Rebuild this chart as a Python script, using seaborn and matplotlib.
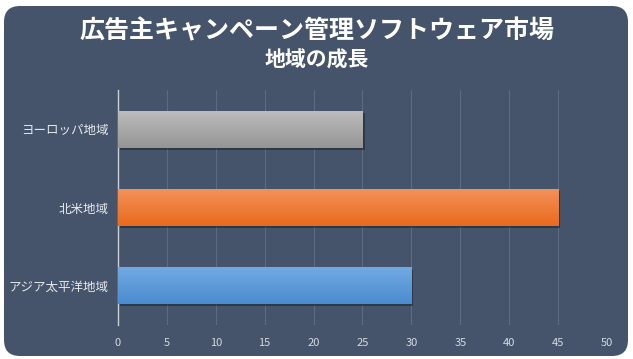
"""Regional growth bar chart for the advertiser campaign management software market."""

import matplotlib

matplotlib.use("Agg")

import matplotlib.patheffects as pe
import matplotlib.pyplot as plt
import numpy as np
import pandas as pd
import seaborn as sns
from matplotlib.colors import LinearSegmentedColormap
from matplotlib.patches import FancyBboxPatch

TITLE = "広告主キャンペーン管理ソフトウェア市場"
SUBTITLE = "地域の成長"

regions = ["ヨーロッパ地域", "北米地域", "アジア太平洋地域"]
growth = [25, 45, 30]
bar_colors = ["#a9a9a9", "#f07f2e", "#5a9ad8"]
# (top, bottom) shades used for the slight vertical gradient on each bar
bar_shades = [("#bcbcbc", "#959595"), ("#f3915a", "#e96a1c"), ("#72aae2", "#4a8bd0")]
x_ticks = [0, 5, 10, 15, 20, 25, 30, 35, 40, 45, 50]

PANEL = "#45546b"
GRID = "#5d6b80"
TEXT = "#e6e9ee"


def main() -> None:
    sns.set_theme(style="white")
    plt.rcParams["font.family"] = ["Noto Sans CJK JP", "DejaVu Sans"]

    df = pd.DataFrame({"region": regions, "growth": growth})

    fig = plt.figure(figsize=(6.33, 3.59), dpi=100)
    fig.patch.set_facecolor("white")

    panel = FancyBboxPatch(
        (0.04, 0.03), 6.24, 3.50,
        boxstyle="round,pad=0,rounding_size=0.16",
        transform=fig.dpi_scale_trans,
        facecolor=PANEL, edgecolor="none", zorder=-5,
    )
    fig.patches.append(panel)

    ax = fig.add_axes([0.1864, 0.0947, 0.7725, 0.6546])
    ax.set_facecolor("none")
    ax.set_zorder(2)

    sns.barplot(
        data=df, x="growth", y="region", hue="region",
        palette=dict(zip(regions, bar_colors)), width=0.47, saturation=1,
        legend=False, ax=ax, zorder=3,
    )
    grad = np.linspace(0, 1, 64).reshape(-1, 1)
    for patch, (top, bottom) in zip(ax.patches, bar_shades):
        patch.set_edgecolor("none")
        patch.set_path_effects([
            pe.SimplePatchShadow(offset=(1.5, -1.5), shadow_rgbFace="#1e2633", alpha=0.6),
            pe.Normal(),
        ])
        x0, y0 = patch.get_x(), patch.get_y()
        w, h = patch.get_width(), patch.get_height()
        cmap = LinearSegmentedColormap.from_list("shade", [top, bottom])
        img = ax.imshow(grad, cmap=cmap, aspect="auto", origin="upper",
                        extent=(x0, x0 + w, y0 + h, y0), zorder=3.5)
        img.set_clip_path(patch)

    ax.set_xlim(0, 50)
    ax.set_ylim(2.5, -0.5)
    ax.set_xticks(x_ticks)
    ax.grid(axis="x", color=GRID, linewidth=0.8, zorder=0)
    ax.grid(axis="y", visible=False)
    for side in ["top", "right", "bottom"]:
        ax.spines[side].set_visible(False)
    ax.spines["left"].set_color("#c9d0da")
    ax.spines["left"].set_linewidth(1.0)

    ax.tick_params(axis="x", length=0, pad=9, labelsize=8, labelcolor="#d5dae2")
    ax.tick_params(axis="y", length=0, pad=7, labelsize=9, labelcolor=TEXT)
    ax.set_xlabel("")
    ax.set_ylabel("")

    fig.text(0.5, 0.912, TITLE, ha="center", va="center",
             fontsize=18, fontweight="bold", color="white")
    fig.text(0.5, 0.833, SUBTITLE, ha="center", va="center",
             fontsize=15, fontweight="bold", color="white")

    fig.savefig("out.png", dpi=100)
    plt.close(fig)


if __name__ == "__main__":
    main()
